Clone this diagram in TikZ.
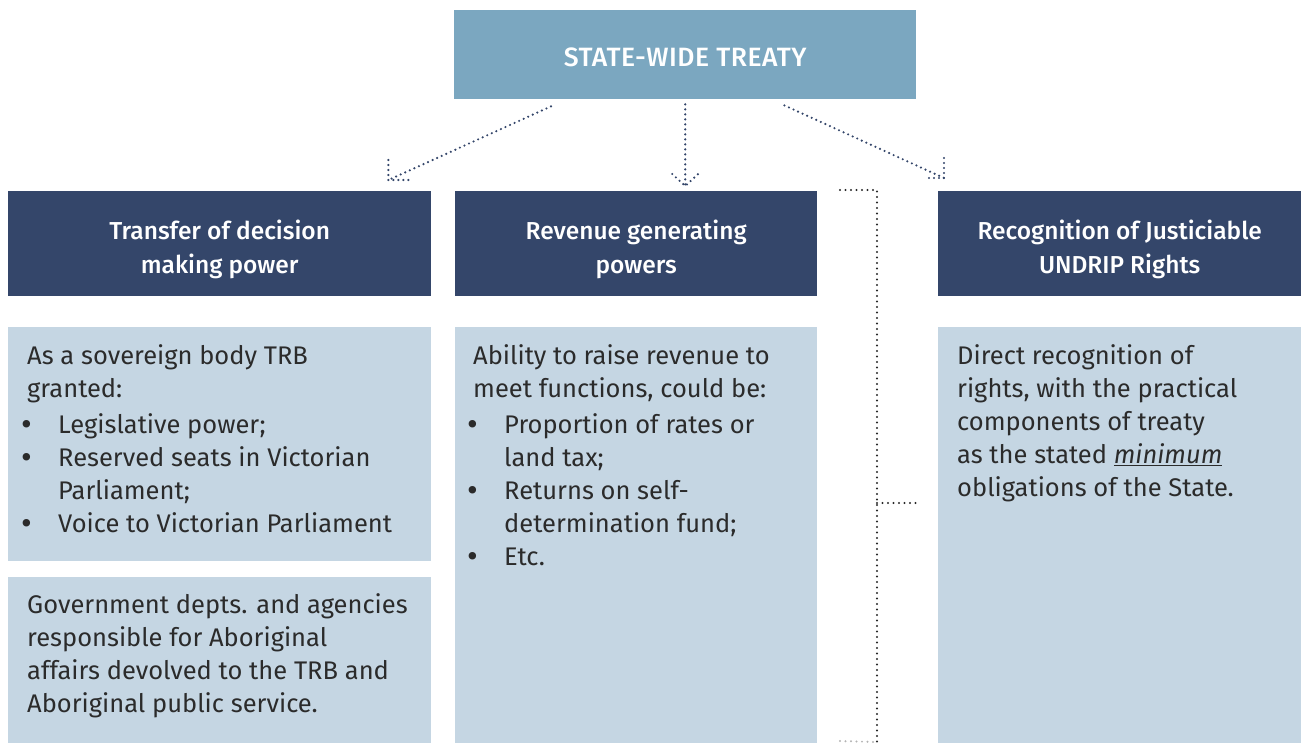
\documentclass[tikz,border=0pt]{standalone}
\usepackage{fontspec}
\setmainfont{Fira Sans}
\IfFontExistsTF{Fira Sans Medium}
  {\newfontfamily\hdrfont{Fira Sans Medium}}
  {\IfFontExistsTF{Fira Sans SemiBold}
    {\newfontfamily\hdrfont{Fira Sans SemiBold}}
    {\newfontfamily\hdrfont{Fira Sans}[FakeBold=1.2]}}
\definecolor{topblue}{RGB}{123,167,192}
\definecolor{navy}{RGB}{52,70,106}
\definecolor{lightpanel}{RGB}{197,214,227}
\definecolor{bodytext}{RGB}{43,43,43}
\definecolor{bracketgray}{RGB}{40,40,40}
\newcommand\bulmark{\makebox[31pt][l]{\hspace{-6pt}\raisebox{-2.5pt}{\fontsize{33}{33}\selectfont •}}}
\newcommand\bulind{\hspace*{31pt}}
\begin{document}
\begin{tikzpicture}[x=1pt,y=-1pt,
  hdr/.style={fill=navy, inner sep=0, anchor=north west},
  hdrtext/.style={text=white, font=\hdrfont\fontsize{24.5}{34}\selectfont, align=center, inner sep=0},
  panel/.style={fill=lightpanel, inner sep=0, anchor=north west},
  body/.style={text=bodytext, font=\fontsize{25.5}{33}\selectfont, align=left, anchor=north west, inner sep=0},
  arr/.style={draw=navy, line width=2.4pt, dash pattern=on 0pt off 5pt, line cap=round},
  brk/.style={draw=bracketgray, line width=2.2pt, dash pattern=on 0pt off 5.5pt, line cap=round}]
\useasboundingbox (0,0) rectangle (1301,742);
% top box
\node[fill=topblue, minimum width=462pt, minimum height=89pt, anchor=north west, inner sep=0] (top) at (454,10) {};
\node[text=white, inner sep=0, font=\hdrfont\fontsize{26.5}{30}\addfontfeatures{LetterSpace=2}\selectfont]
  (toptext) at ([yshift=-3pt]top.center) {STATE-WIDE TREATY};
% header boxes
\node[hdr, minimum width=423pt, minimum height=105pt] (h1) at (8,191) {};
\node[hdr, minimum width=362pt, minimum height=105pt] (h2) at (455,191) {};
\node[hdr, minimum width=363pt, minimum height=105pt] (h3) at (938,191) {};
\node[hdrtext] (h1t) at ([yshift=-6pt]h1.center) {Transfer of decision\\making power};
\node[hdrtext] (h2t) at ([yshift=-6pt]h2.center) {Revenue generating\\powers};
\node[hdrtext] (h3t) at ([yshift=-6pt]h3.center) {Recognition of Justiciable\\UNDRIP Rights};
% panels
\node[panel, minimum width=423pt, minimum height=234pt] (p1a) at (8,327) {};
\node[panel, minimum width=423pt, minimum height=166pt] (p1b) at (8,577) {};
\node[panel, minimum width=362pt, minimum height=416pt] (p2) at (455,327) {};
\node[panel, minimum width=363pt, minimum height=416pt] (p3) at (938,327) {};
% texts
\node[body] (t1a) at (27,344) {As a sovereign body TRB\\granted:\\[3pt]\bulmark Legislative power;\\\bulmark Reserved seats in Victorian\\\bulind Parliament;\\\bulmark Voice to Victorian Parliament};
\node[body] (t1b) at (27,593) {Government depts. and agencies\\responsible for Aboriginal\\affairs devolved to the TRB and\\Aboriginal public service.};
\node[body] (t2) at (473,344) {Ability to raise revenue to\\meet functions, could be:\\[3pt]\bulmark Proportion of rates or\\\bulind land tax;\\\bulmark Returns on self-\\\bulind determination fund;\\\bulmark Etc.};
\node[body] (t3) at (957,344) {Direct recognition of\\rights, with the practical\\components of treaty\\as the stated \underline{\textit{minimum}}\\obligations of the State.};
% arrows
\coordinate (a1s) at ([shift={(97pt,-7pt)}]top.south west);
\coordinate (a1e) at ([shift={(-43pt,11pt)}]h1.north east);
\coordinate (a2s) at ([yshift=-5pt]top.south);
\coordinate (a2e) at ([yshift=5pt]top.south |- h2.north);
\coordinate (a3s) at ([shift={(-132pt,-6pt)}]top.south east);
\coordinate (a3e) at ([shift={(6pt,13pt)}]h3.north west);
\draw[arr] (a1s) -- (a1e);
\draw[arr] (a1e) ++(0,-20) -- (a1e) -- ++(20,0);
\draw[arr] (a2s) -- (a2e);
\draw[arr] (a2e) ++(-13,-12) -- (a2e) -- ++(13,-12);
\draw[arr] (a3s) -- (a3e);
\draw[arr] (a3e) ++(0,-20) -- (a3e) -- ++(-19,0);
% bracket
\coordinate (b1) at (840,190);
\coordinate (b2) at (877,190);
\coordinate (b3) at (877,742);
\coordinate (b4) at (877,503);
\coordinate (b5) at (916,503);
\coordinate (b6) at (840,741);
\draw[brk] (b1) -- (b2) -- (b3);
\draw[brk] (b4) -- (b5);
\draw[brk, draw opacity=0.35] (b6) -- (b3);
\end{tikzpicture}
\end{document}
